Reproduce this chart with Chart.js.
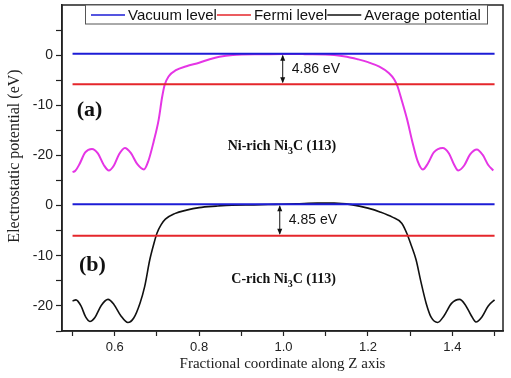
<!DOCTYPE html>
<html>
<head>
<meta charset="utf-8">
<script src="https://cdn.jsdelivr.net/npm/chart.js@4.4.1/dist/chart.umd.min.js"></script>
<style>
    html, body { margin: 0; padding: 0; background: #fff; }
</style>
</head>
<body>
<canvas id="grafiks" width="511" height="378"></canvas>
<script>
// Dati nolasīti no attēla

// (a) Ni-rich, vidējais potenciāls (magenta)
const topX = [0.500, 0.506, 0.516, 0.530, 0.546, 0.560, 0.574, 0.586, 0.598, 0.610, 0.624, 0.638, 0.654, 0.669,
    0.680, 0.692, 0.704, 0.712, 0.718, 0.728, 0.745, 0.770, 0.800, 0.825, 0.848, 0.880, 0.950, 1.000, 1.050,
    1.120, 1.150, 1.175, 1.200, 1.227, 1.250, 1.262, 1.270, 1.280, 1.293, 1.305, 1.318, 1.330, 1.342, 1.356,
    1.377, 1.392, 1.404, 1.414, 1.428, 1.442, 1.458, 1.472, 1.485, 1.497];
const topY = [-23.3, -23.1, -21.8, -19.4, -18.7, -19.6, -21.9, -23.0, -22.0, -19.8, -18.5, -19.5, -21.8, -22.8,
    -21.0, -17.3, -12.9, -8.5, -6.0, -4.2, -3.0, -2.2, -1.5, -0.8, -0.3, 0.05, 0.2, 0.25, 0.2,
    0.05, -0.3, -0.8, -1.4, -2.3, -3.6, -4.8, -6.2, -9.0, -12.9, -17.2, -21.2, -22.8, -21.6, -19.4,
    -18.5, -19.6, -21.8, -23.0, -22.0, -19.8, -18.8, -19.9, -21.9, -23.0];

// (b) C-rich, vidējais potenciāls (melns)
const botX = [0.500, 0.508, 0.520, 0.531, 0.541, 0.553, 0.568, 0.584, 0.598, 0.614, 0.631, 0.645, 0.660, 0.671,
    0.683, 0.692, 0.700, 0.710, 0.720, 0.742, 0.770, 0.800, 0.840, 0.878, 0.930, 0.980, 1.030, 1.080, 1.120,
    1.160, 1.200, 1.230, 1.258, 1.280, 1.292, 1.302, 1.314, 1.325, 1.338, 1.350, 1.365, 1.380, 1.398, 1.417,
    1.430, 1.444, 1.456, 1.470, 1.485, 1.500];
const botY = [-19.0, -18.8, -20.0, -22.2, -23.1, -22.3, -19.9, -18.7, -19.7, -21.9, -23.3, -22.4, -19.4, -16.1,
    -10.8, -7.8, -5.5, -3.8, -2.7, -1.6, -0.9, -0.4, -0.1, 0.1, 0.15, 0.25, 0.35, 0.5, 0.5,
    0.2, -0.5, -1.3, -2.3, -3.5, -5.5, -7.8, -10.8, -15.0, -19.5, -22.3, -23.3, -22.0, -19.5, -18.7,
    -19.7, -21.8, -23.2, -22.2, -20.0, -18.8];

// Vakuuma un Fermi līmeņi [augšējais, apakšējais]
const levelX = [0.5, 1.5];
const vacuum = [0.3, 0.25];
const fermi = [-5.8, -6.0];
const gapText = ['4.86 eV', '4.85 eV'];
const gapAt = [0.998, 0.991];

// Asu iedaļas
const xTicks = [0.5, 0.6, 0.7, 0.8, 0.9, 1.0, 1.1, 1.2, 1.3, 1.4, 1.5];
const xLabels = ['', '0.6', '', '0.8', '', '1.0', '', '1.2', '', '1.4', ''];
const yTopTicks = [5, 0, -5, -10, -15, -20];
const yTopLabels = ['', '0', '', '-10', '', '-20'];
const yBotTicks = [5, 0, -5, -10, -15, -20, -25];
const yBotLabels = ['', '0', '', '-10', '', '-20', ''];

const legendLabels = ['Vacuum level', 'Fermi level', 'Average potential'];
const krasas = {
    vakuums: '#1c1cd6',
    fermi: '#e5262b',
    magenta: '#e535e5',
    melns: '#111',
    ass: '#222'
};
const legendColors = [krasas.vakuums, krasas.fermi, krasas.melns];

const punkti = (xs, ys) => xs.map((x, i) => ({ x: x, y: ys[i] }));
const limenis = (v) => levelX.map(x => ({ x: x, y: v }));

// Rāmis, leģenda un uzraksti
const zimejumi = {
    id: 'zimejumi',
    afterDraw(chart) {
        const ctx = chart.ctx;
        const a = chart.chartArea;
        const xs = chart.scales.x;
        const yA = chart.scales.yTop;
        const yB = chart.scales.yBot;
        ctx.save();

        // rāmis
        ctx.strokeStyle = krasas.ass;
        ctx.lineWidth = 1.5;
        ctx.strokeRect(a.left, a.top, a.right - a.left, a.bottom - a.top);

        // leģenda
        ctx.fillStyle = '#fff';
        ctx.fillRect(85, a.top, 402, 19);
        ctx.lineWidth = 1;
        ctx.strokeStyle = '#555';
        ctx.strokeRect(85.5, a.top, 402, 19);
        ctx.font = '15px "Liberation Sans", Arial, sans-serif';
        ctx.textBaseline = 'middle';
        let lx = 91;
        const ly = a.top + 10;
        legendLabels.forEach((t, i) => {
            ctx.strokeStyle = legendColors[i];
            ctx.lineWidth = 1.6;
            ctx.beginPath();
            ctx.moveTo(lx, ly);
            ctx.lineTo(lx + 34, ly);
            ctx.stroke();
            ctx.fillStyle = '#111';
            ctx.fillText(t, lx + 37, ly + 1);
            lx += 37 + ctx.measureText(t).width;
        });

        // y ass nosaukums
        ctx.save();
        ctx.translate(15, 156);
        ctx.rotate(-Math.PI / 2);
        ctx.font = '16px "Liberation Serif", "Times New Roman", serif';
        ctx.textAlign = 'center';
        ctx.fillStyle = '#222';
        ctx.fillText('Electrostatic potential (eV)', 0, 0);
        ctx.restore();

        // paneļu burti
        ctx.font = 'bold 22px "Liberation Serif", "Times New Roman", serif';
        ctx.textAlign = 'left';
        ctx.fillStyle = '#111';
        ctx.fillText('(a)', xs.getPixelForValue(0.510), yA.getPixelForValue(-10.9));
        ctx.fillText('(b)', xs.getPixelForValue(0.515), yB.getPixelForValue(-12.0));

        // virsmu nosaukumi ar apakšindeksu
        const nosaukums = (pirms, indekss, pec, xc, yb) => {
            const lielais = 'bold 14px "Liberation Serif", "Times New Roman", serif';
            const mazais = 'bold 10px "Liberation Serif", "Times New Roman", serif';
            ctx.font = lielais;
            const w1 = ctx.measureText(pirms).width;
            const w3 = ctx.measureText(pec).width;
            ctx.font = mazais;
            const w2 = ctx.measureText(indekss).width;
            let x0 = xc - (w1 + w2 + w3) / 2;
            ctx.textBaseline = 'alphabetic';
            ctx.font = lielais;
            ctx.fillText(pirms, x0, yb);
            ctx.font = mazais;
            ctx.fillText(indekss, x0 + w1, yb + 4);
            ctx.font = lielais;
            ctx.fillText(pec, x0 + w1 + w2, yb);
        };
        nosaukums('Ni-rich Ni', '3', 'C (113)', xs.getPixelForValue(0.996), yA.getPixelForValue(-18.9));
        nosaukums('C-rich Ni', '3', 'C (113)', xs.getPixelForValue(1.0), yB.getPixelForValue(-15.5));

        // bultas starp līmeņiem
        [yA, yB].forEach((ys, i) => {
            const px = xs.getPixelForValue(gapAt[i]);
            const y1 = ys.getPixelForValue(vacuum[i]);
            const y2 = ys.getPixelForValue(fermi[i]);
            ctx.strokeStyle = '#111';
            ctx.fillStyle = '#111';
            ctx.lineWidth = 1;
            ctx.beginPath();
            ctx.moveTo(px, y1 + 2);
            ctx.lineTo(px, y2 - 2);
            ctx.stroke();
            ctx.beginPath();
            ctx.moveTo(px, y1 + 1);
            ctx.lineTo(px - 2.5, y1 + 7);
            ctx.lineTo(px + 2.5, y1 + 7);
            ctx.closePath();
            ctx.fill();
            ctx.beginPath();
            ctx.moveTo(px, y2 - 1);
            ctx.lineTo(px - 2.5, y2 - 7);
            ctx.lineTo(px + 2.5, y2 - 7);
            ctx.closePath();
            ctx.fill();
            ctx.font = '14px "Liberation Sans", Arial, sans-serif';
            ctx.textBaseline = 'middle';
            ctx.fillText(gapText[i], px + 9, (y1 + y2) / 2);
        });

        ctx.restore();
    }
};

const asuFonts = { family: '"Liberation Sans", Arial, sans-serif', size: 14 };

// y asīm noņemu papildu atkāpes, lai rāmis sāktos pašā augšā
const yFit = s => { s.width = 62; s.paddingTop = 0; s.paddingBottom = 0; };

new Chart(document.getElementById('grafiks'), {
    type: 'line',
    data: {
        datasets: [
            { label: 'Vacuum level', data: limenis(vacuum[0]), yAxisID: 'yTop', borderColor: krasas.vakuums, borderWidth: 2, pointRadius: 0, order: 1 },
            { label: 'Fermi level', data: limenis(fermi[0]), yAxisID: 'yTop', borderColor: krasas.fermi, borderWidth: 2, pointRadius: 0, order: 1 },
            { label: 'Average potential', data: punkti(topX, topY), yAxisID: 'yTop', borderColor: krasas.magenta, borderWidth: 2, pointRadius: 0, cubicInterpolationMode: 'monotone', order: 2 },
            { label: 'Vacuum level', data: limenis(vacuum[1]), yAxisID: 'yBot', borderColor: krasas.vakuums, borderWidth: 2, pointRadius: 0, order: 1 },
            { label: 'Fermi level', data: limenis(fermi[1]), yAxisID: 'yBot', borderColor: krasas.fermi, borderWidth: 2, pointRadius: 0, order: 1 },
            { label: 'Average potential', data: punkti(botX, botY), yAxisID: 'yBot', borderColor: krasas.melns, borderWidth: 1.6, pointRadius: 0, cubicInterpolationMode: 'monotone', order: 2 }
        ]
    },
    options: {
        responsive: false,
        animation: false,
        layout: { padding: { left: 0, right: 8, top: 5, bottom: 5 } },
        plugins: {
            legend: { display: false },
            tooltip: { enabled: false }
        },
        scales: {
            x: {
                type: 'linear',
                min: 0.475,
                max: 1.52,
                afterBuildTicks: s => { s.ticks = xTicks.map(v => ({ value: v })); },
                afterFit: s => { s.height = 42; s.paddingLeft = 0; s.paddingRight = 0; },
                ticks: {
                    callback: (v, i) => xLabels[i],
                    autoSkip: false,
                    maxRotation: 0,
                    color: '#222',
                    font: { family: asuFonts.family, size: 13 },
                    padding: 4
                },
                grid: { drawOnChartArea: false, tickLength: 5, tickColor: krasas.ass, tickWidth: 1.2 },
                border: { color: krasas.ass, width: 1.5 },
                title: {
                    display: true,
                    text: 'Fractional coordinate along Z axis',
                    color: '#222',
                    font: { family: '"Liberation Serif", "Times New Roman", serif', size: 15 },
                    padding: { top: 2, bottom: 0 }
                }
            },
            // apakšējais panelis jādefinē pirmais, lai kaudzē tas būtu apakšā
            yBot: {
                type: 'linear',
                position: 'left',
                stack: 'paneli',
                stackWeight: 30,
                min: -25,
                max: 5,
                afterBuildTicks: s => { s.ticks = yBotTicks.map(v => ({ value: v })); },
                afterFit: yFit,
                ticks: { callback: (v, i) => yBotLabels[i], autoSkip: false, color: '#222', font: asuFonts, padding: 3 },
                grid: { drawOnChartArea: false, tickLength: 6, tickColor: krasas.ass, tickWidth: 1.2 },
                border: { color: krasas.ass, width: 1.5 }
            },
            yTop: {
                type: 'linear',
                position: 'left',
                stack: 'paneli',
                stackWeight: 35,
                min: -25,
                max: 10,
                afterBuildTicks: s => { s.ticks = yTopTicks.map(v => ({ value: v })); },
                afterFit: yFit,
                ticks: { callback: (v, i) => yTopLabels[i], autoSkip: false, color: '#222', font: asuFonts, padding: 3 },
                grid: { drawOnChartArea: false, tickLength: 6, tickColor: krasas.ass, tickWidth: 1.2 },
                border: { color: krasas.ass, width: 1.5 }
            }
        }
    },
    plugins: [zimejumi]
});
</script>
</body>
</html>
